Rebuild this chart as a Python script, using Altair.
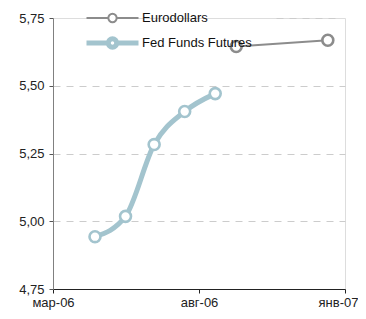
import altair as alt
import pandas as pd

series_names = ["Eurodollars", "Fed Funds Futures"]
series_colors = ["#8c8c8c", "#a3c4ce"]
series_widths = [2, 5]

euro_dates = ["2006-09-09", "2006-12-14"]
euro_values = [5.645, 5.668]

fed_dates = ["2006-04-14", "2006-05-16", "2006-06-15", "2006-07-17", "2006-08-18"]
fed_values = [4.943, 5.018, 5.283, 5.405, 5.471]

y_ticks = [4.75, 5.0, 5.25, 5.5, 5.75]
month_names = ['янв', 'фев', 'мар', 'апр', 'май', 'июн', 'июл', 'авг', 'сен', 'окт', 'ноя', 'дек']

df = pd.concat([
    pd.DataFrame({"date": euro_dates, "value": euro_values, "series": series_names[0]}),
    pd.DataFrame({"date": fed_dates, "value": fed_values, "series": series_names[1]}),
])

FONT = "Liberation Sans"
months_js = "[" + ",".join("'" + m + "'" for m in month_names) + "]"
is_last = "utcyear(datum.value) == 2007"

x_enc = alt.X(
    "date:T",
    scale=alt.Scale(type="utc",
                    domain=[alt.DateTime(year=2006, month=3, date=1, utc=True),
                            alt.DateTime(year=2007, month=1, date=1, utc=True)]),
    axis=alt.Axis(
        values=[alt.DateTime(year=2006, month=3, date=1, utc=True),
                alt.DateTime(year=2006, month=8, date=1, utc=True),
                alt.DateTime(year=2007, month=1, date=1, utc=True)],
        labelExpr=months_js + "[utcmonth(datum.value)] + '-' + utcFormat(datum.value, '%y')",
        title=None, grid=False, domainColor="#222222", tickColor="#222222",
        tickSize=4, labelPadding=3, labelFontSize=13, labelFont=FONT, labelColor="#222222",
        labelFlush=False,
        labelAlign={"condition": {"test": is_last, "value": "right"}, "value": "center"},
        labelOffset={"condition": {"test": is_last, "value": 13}, "value": 0},
    ),
)
y_enc = alt.Y(
    "value:Q",
    scale=alt.Scale(domain=[4.75, 5.75], nice=False, zero=False),
    axis=alt.Axis(
        values=y_ticks,
        labelExpr="replace(format(datum.value, '.2f'), '.', ',')",
        title=None, domainColor="#808080", tickColor="#555555", tickSize=4,
        labelPadding=5, labelFontSize=13, labelFont=FONT, labelColor="#222222",
        gridColor="#cccccc", gridWidth=1,
        gridDash={"condition": {"test": "abs(datum.value - 5.75) < 0.001",
                                "value": [0, 223, 7, 6, 7, 6, 7, 6, 7, 6, 7, 6]},
                  "value": [7, 6]},
        gridOpacity={"condition": {"test": "abs(datum.value - 4.75) < 0.001", "value": 0},
                     "value": 1},
    ),
)

legend_path = ("M-1,0H-0.16 M0.16,0H1 M-0.16,0A0.16,0.16 0 1,0 0.16,0"
               "A0.16,0.16 0 1,0 -0.16,0Z")

color_enc = alt.Color(
    "series:N",
    scale=alt.Scale(domain=series_names, range=series_colors),
    legend=alt.Legend(
        title=None, orient="none", legendX=31, legendY=-8, padding=0,
        symbolType=legend_path, symbolSize=2704, symbolFillColor="white",
        labelFontSize=13, labelFont=FONT, labelColor="#111111", labelOffset=1,
        clipHeight=16, rowPadding=9,
    ),
)
sw_enc = alt.StrokeWidth(
    "series:N",
    scale=alt.Scale(domain=series_names, range=series_widths),
    legend=alt.Legend(title=None),
)

lines = alt.Chart(df).mark_line(interpolate="monotone").encode(
    x=x_enc, y=y_enc, color=color_enc, strokeWidth=sw_enc,
)
points = alt.Chart(df).mark_point(filled=False, fill="white", fillOpacity=1,
                                  opacity=1, size=120, strokeWidth=2.6).encode(
    x=x_enc, y=y_enc,
    color=alt.Color("series:N", scale=alt.Scale(domain=series_names, range=series_colors), legend=None),
)

chart = alt.layer(lines, points).properties(
    width=292, height=271,
    autosize=alt.AutoSizeParams(type="none"),
    padding={"left": 45, "top": 10, "right": 13, "bottom": 22},
).configure_view(stroke=None).configure(background="white")

chart.save("out.html", embed_options={"renderer": "svg", "actions": False})
